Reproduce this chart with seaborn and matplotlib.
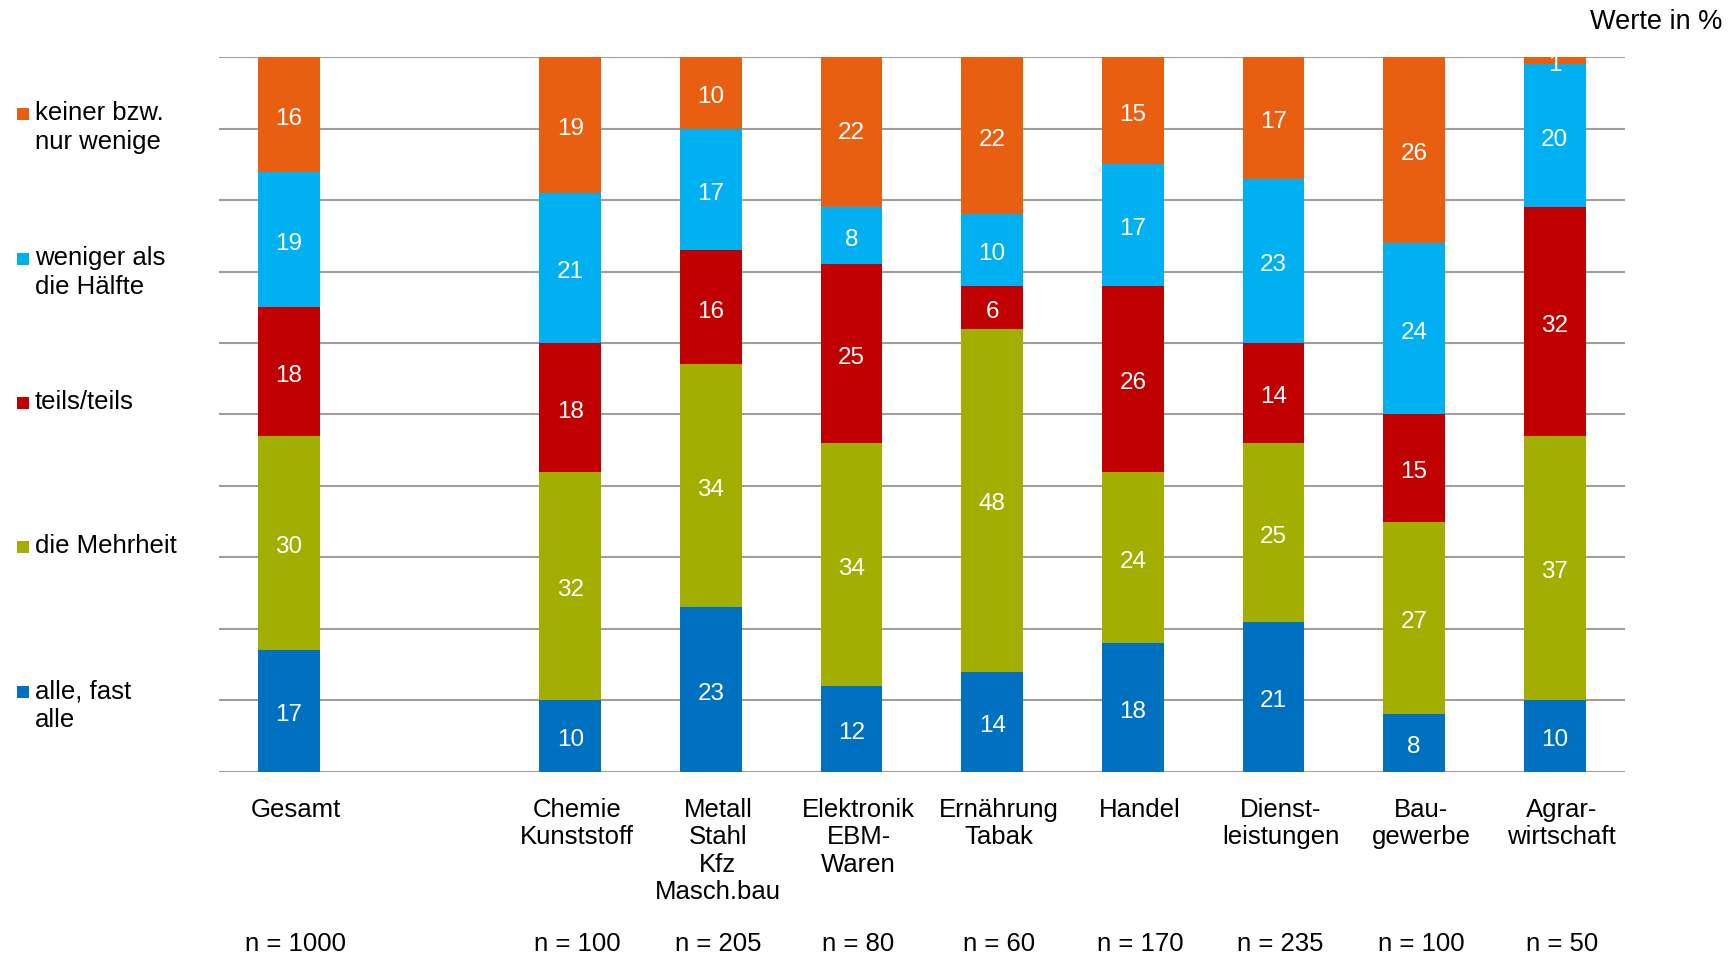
import matplotlib
matplotlib.use("Agg")
import matplotlib.pyplot as plt
import matplotlib.patches as mpatches
import seaborn as sns
import pandas as pd
import numpy as np

# ---- data ----
categories = ["Gesamt", "", "Chemie\nKunststoff", "Metall\nStahl\nKfz\nMasch.bau",
              "Elektronik\nEBM-\nWaren", "Ernährung\nTabak", "Handel",
              "Dienst-\nleistungen", "Bau-\ngewerbe", "Agrar-\nwirtschaft"]
n_labels = ["n = 1000", "", "n = 100", "n = 205", "n = 80", "n = 60",
            "n = 170", "n = 235", "n = 100", "n = 50"]
# series from bottom to top
series_names = ["alle, fast\nalle", "die Mehrheit", "teils/teils",
                "weniger als\ndie Hälfte", "keiner bzw.\nnur wenige"]
alle_fast_alle = [17, None, 10, 23, 12, 14, 18, 21, 8, 10]
die_mehrheit   = [30, None, 32, 34, 34, 48, 24, 25, 27, 37]
teils_teils    = [18, None, 18, 16, 25, 6, 26, 14, 15, 32]
weniger_haelfte = [19, None, 21, 17, 8, 10, 17, 23, 24, 20]
keiner_wenige  = [16, None, 19, 10, 22, 22, 15, 17, 26, 1]
series_values = [alle_fast_alle, die_mehrheit, teils_teils, weniger_haelfte, keiner_wenige]
colors = ["#0070C0", "#A2AF00", "#C00000", "#00B0F0", "#E95F12"]

sns.set_theme(style="white")
plt.rcParams['font.family'] = ['Liberation Sans', 'DejaVu Sans']

fig = plt.figure(figsize=(17.31, 9.55), dpi=100)
ax = fig.add_axes([0.1263, 0.192, 0.8125, 0.748])

order = [f"c{i}" for i in range(len(categories))]
present = [i for i in range(len(categories)) if alle_fast_alle[i] is not None]

# cumulative tops
cum = np.zeros(len(categories))
cums = []
for vals in series_values:
    v = np.array([x if x is not None else 0 for x in vals], dtype=float)
    cum = cum + v
    cums.append(cum.copy())

# draw from top-most series down (overlay technique)
for k in range(len(series_values) - 1, -1, -1):
    df = pd.DataFrame({"cat": [order[i] for i in present],
                       "val": [cums[k][i] for i in present]})
    sns.barplot(data=df, x="cat", y="val", order=order, color=colors[k],
                width=0.44, linewidth=0, saturation=1, ax=ax, zorder=3,
                errorbar=None)

# value labels
for k, vals in enumerate(series_values):
    for i in present:
        v = vals[i]
        ymid = cums[k][i] - v / 2
        ax.text(i, ymid - 0.25, str(v), ha="center", va="center_baseline", color="white",
                fontsize=17.5, zorder=5, clip_on=True)

ax.set_ylim(0, 100)
ax.set_xlim(-0.5, len(categories) - 0.5)
ax.set_yticks(np.arange(0, 101, 10))
ax.set_yticklabels([])
ax.set_xticks([])
ax.set_xlabel("")
ax.set_ylabel("")
ax.yaxis.grid(True, color="#A39C99", linewidth=1.5, zorder=0)
ax.set_axisbelow(True)
for s in ax.spines.values():
    s.set_visible(False)
ax.tick_params(left=False, bottom=False)

# category and n labels
trans = ax.get_xaxis_transform()
for i, (c, nl) in enumerate(zip(categories, n_labels)):
    ax.text(i + 0.05, -0.0375, c, transform=trans, ha="center", va="top",
            fontsize=18.5, color="black", linespacing=1.16, clip_on=False)
    ax.text(i + 0.05, -0.241, nl, transform=trans, ha="center", va="center",
            fontsize=18.5, color="black", clip_on=False)

# legend (manual)
legend_y = [114, 259, 403, 547, 692]
for k in range(len(series_names)):
    name = series_names[::-1][k]
    col = colors[::-1][k]
    y_px = legend_y[k]
    fy = 1 - y_px / 955
    fig.patches.append(mpatches.Rectangle((17 / 1731, fy - 6 / 955), 12 / 1731, 12 / 955,
                                          transform=fig.transFigure, facecolor=col,
                                          edgecolor="none"))
    fig.text(35 / 1731, fy + 13 / 955, name, ha="left", va="top", fontsize=18.5,
             color="black", linespacing=1.25)

fig.text(1722 / 1731, 1 - 22 / 955, "Werte in %", ha="right", va="center",
         fontsize=19.5, color="black")

fig.savefig("out.png", dpi=100)
